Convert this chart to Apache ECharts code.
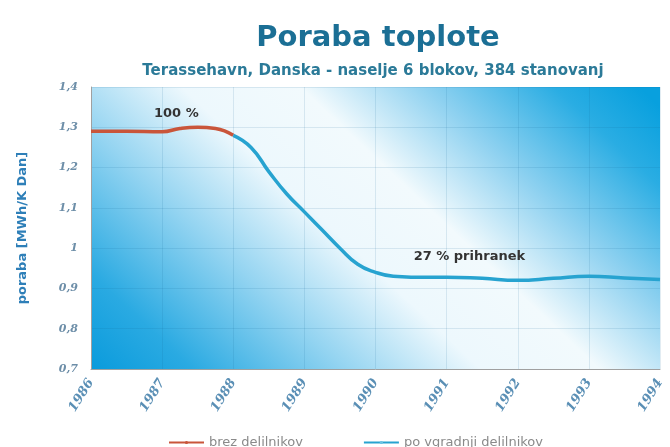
<!DOCTYPE html>
<html>
<head>
<meta charset="utf-8">
<script src="https://cdn.jsdelivr.net/npm/echarts@6/dist/echarts.min.js"></script>
<style>
    html, body { margin: 0; padding: 0; background: #fff; }
    #chart { width: 670px; height: 447px; }
</style>
</head>
<body>
<div id="chart"></div>
<script>
    // podatki odčitani s slike
    var years = [1986, 1987, 1988, 1989, 1990, 1991, 1992, 1993, 1994];
    var yTicks = [0.7, 0.8, 0.9, 1.0, 1.1, 1.2, 1.3, 1.4];

    var brezDelilnikov = [
        [1986, 1.29], [1986.5, 1.29], [1987, 1.289], [1987.25, 1.297],
        [1987.5, 1.3], [1987.75, 1.297], [1988, 1.28]
    ];
    var poVgradnji = [
        [1988, 1.28], [1988.25, 1.25], [1988.5, 1.19], [1988.75, 1.135],
        [1989, 1.09], [1989.25, 1.045], [1989.5, 1.0], [1989.75, 0.96],
        [1990, 0.94], [1990.25, 0.93], [1990.5, 0.928], [1991, 0.928],
        [1991.5, 0.925], [1992, 0.92], [1992.5, 0.925], [1993, 0.93],
        [1993.5, 0.926], [1994, 0.922]
    ];
    var annotations = [
        { text: '100 %', x: 1987.2, y: 1.335 },
        { text: '27 % prihranek', x: 1991.32, y: 0.978 }
    ];

    var chart = echarts.init(document.getElementById('chart'));

    var option = {
        animation: false,
        title: [
            {
                text: 'Poraba toplote',
                left: 373, top: 19, textAlign: 'center',
                textStyle: { fontFamily: 'DejaVu Sans', fontWeight: 'bold', fontSize: 29, color: '#1b6f95' }
            },
            {
                text: 'Terassehavn, Danska - naselje 6 blokov, 384 stanovanj',
                left: 368, top: 59, textAlign: 'center',
                textStyle: { fontFamily: 'DejaVu Sans', fontWeight: 'bold', fontSize: 15, color: '#2b7a98' }
            }
        ],
        legend: {
            left: 163, top: 431,
            itemWidth: 35, itemHeight: 4, itemGap: 60,
            textStyle: { fontFamily: 'DejaVu Sans', fontSize: 13, color: '#8a8a8a' },
            data: ['brez delilnikov', 'po vgradnji delilnikov']
        },
        grid: {
            left: 91, right: 10, top: 87, bottom: 78,
            show: true,
            borderWidth: 0,
            backgroundColor: new echarts.graphic.LinearGradient(0, 1, 0.7, -0.5, [
                { offset: 0, color: '#0a9bdc' },
                { offset: 0.12, color: '#2aaae2' },
                { offset: 0.3, color: '#94d4f1' },
                { offset: 0.46, color: '#edf8fd' },
                { offset: 0.6, color: '#f2fafd' },
                { offset: 0.75, color: '#8ed1f0' },
                { offset: 0.9, color: '#2aade3' },
                { offset: 1, color: '#08a0de' }
            ])
        },
        xAxis: {
            type: 'value',
            min: years[0], max: years[years.length - 1], interval: 1,
            axisLine: { show: true, lineStyle: { color: '#a0a0a0', width: 1 } },
            axisTick: { show: false },
            splitLine: { show: true, lineStyle: { color: 'rgba(20,100,150,0.12)' } },
            axisLabel: {
                rotate: 58, margin: 11,
                fontFamily: 'DejaVu Serif', fontStyle: 'italic', fontWeight: 'bold',
                fontSize: 13, color: '#5a8fb5',
                formatter: function (v) { return String(v); }
            }
        },
        yAxis: {
            type: 'value',
            min: yTicks[0], max: yTicks[yTicks.length - 1], interval: 0.1,
            name: 'poraba [MWh/K Dan]',
            nameLocation: 'middle', nameGap: 62,
            nameTextStyle: { fontFamily: 'DejaVu Sans', fontWeight: 'bold', fontSize: 13, color: '#2e7fb8' },
            axisLine: { show: true, lineStyle: { color: '#a0a0a0', width: 1 } },
            axisTick: { show: false },
            splitLine: { show: true, lineStyle: { color: 'rgba(20,100,150,0.12)' } },
            axisLabel: {
                margin: 13,
                fontFamily: 'DejaVu Serif', fontStyle: 'italic', fontWeight: 'bold',
                fontSize: 11, color: '#6d8ea8',
                formatter: function (v) { return (Math.round(v * 10) / 10).toString().replace('.', ','); }
            }
        },
        series: [
            {
                name: 'brez delilnikov',
                type: 'line',
                smooth: true,
                symbol: 'none',
                data: brezDelilnikov,
                lineStyle: { color: '#c9553a', width: 3.5 },
                itemStyle: { color: '#c9553a' },
                z: 3
            },
            {
                name: 'po vgradnji delilnikov',
                type: 'line',
                smooth: true,
                symbol: 'none',
                data: poVgradnji,
                lineStyle: { color: '#27a3d0', width: 3.5 },
                itemStyle: { color: '#6cc4e4' },
                markPoint: {
                    symbol: 'circle',
                    symbolSize: 0,
                    label: {
                        show: true, position: 'inside',
                        fontFamily: 'DejaVu Sans', fontWeight: 'bold', fontSize: 13, color: '#333',
                        formatter: function (p) { return p.name; }
                    },
                    data: annotations.map(function (a) {
                        return { name: a.text, coord: [a.x, a.y] };
                    })
                }
            }
        ]
    };

    chart.setOption(option);
</script>
</body>
</html>
